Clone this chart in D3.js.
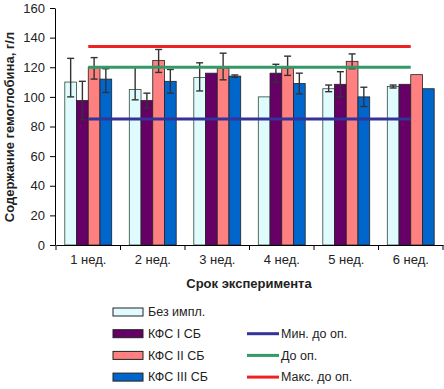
<!DOCTYPE html>
<html>
<head>
<meta charset="utf-8">
<script src="https://cdn.jsdelivr.net/npm/d3@7"></script>
<style>
  body { margin: 0; background: #fff; }
  svg { display: block; font-family: "Liberation Sans", Arial, sans-serif; }
</style>
</head>
<body>
<div id="chart"></div>
<script>
/* Содержание гемоглобина по неделям */

const weeks = ["1 нед.", "2 нед.", "3 нед.", "4 нед.", "5 нед.", "6 нед."];
const series = ["Без импл.", "КФС I СБ", "КФС II СБ", "КФС III СБ"];

// bar values per series (g/l)
const bezImpl = [110, 105, 113, 100, 105.5, 107];
const kfs1 = [97.5, 97.5, 116, 116, 108.5, 108.5];
const kfs2 = [120, 124.5, 119.5, 119.5, 124, 115];
const kfs3 = [112, 110.5, 114, 109, 100, 105.5];

// error bars: upper and lower deltas
const errUp = [
  [16, 15, 10, 0, 2.5, 1],
  [13, 5, 0, 6, 8.5, 0],
  [6.5, 7.5, 10, 8, 5, 0],
  [7, 8, 0.8, 7, 6.5, 0]
];
const errDown = [
  [10, 7, 9, 0, 2, 1],
  [13, 5, 0, 6, 8.5, 0],
  [8, 8, 8, 5, 5, 0],
  [9, 8, 0.8, 7, 6.5, 0]
];

// reference lines
const lineNames = ["Мин. до оп.", "До оп.", "Макс. до оп."];
const minLine = [85, 85, 85, 85, 85, 85];
const preLine = [120, 120, 120, 120, 120, 120];
const maxLine = [134, 134, 134, 134, 134, 134];

const yTicks = [0, 20, 40, 60, 80, 100, 120, 140, 160];

const barColors = ["#e0fbfd", "#660066", "#ff8080", "#0066cc"];
const lineColors = ["#333399", "#339966", "#ee2222"];

const width = 444, height = 389,
      margin = ({top: 8, right: 1, bottom: 144, left: 56});

const svg = d3.select("#chart")
    .append("svg")
    .attr("width", width)
    .attr("height", height);

const x = d3.scaleBand()
    .domain(weeks)
    .range([margin.left, width - margin.right])
    .paddingInner(0)
    .paddingOuter(0);

const xs = d3.scaleBand()
    .domain(series)
    .range([0, x.bandwidth()])
    .paddingInner(0)
    .paddingOuter(0.75);

const y = d3.scaleLinear()
    .domain([0, 160])
    .range([height - margin.bottom, margin.top]);

const barData = [bezImpl, kfs1, kfs2, kfs3];

// bars
series.forEach((s, si) => {
  const g = svg.append("g").attr("class", "bar");
  g.selectAll("rect")
    .data(weeks)
    .join("rect")
    .attr("x", (w) => x(w) + xs(s))
    .attr("width", xs.bandwidth())
    .attr("y", (w, i) => y(barData[si][i]))
    .attr("height", (w, i) => y(0) - y(barData[si][i]))
    .attr("fill", barColors[si])
    .attr("stroke", si === 0 ? "#2a4a3a" : "#222")
    .attr("stroke-width", 0.8);
});

// error bars
series.forEach((s, si) => {
  const g = svg.append("g").attr("class", "err")
      .attr("stroke", "#333")
      .attr("stroke-width", 1.4);
  weeks.forEach((w, i) => {
    const up = errUp[si][i], dn = errDown[si][i];
    if (up === 0 && dn === 0) return;
    const v = barData[si][i];
    const cx = x(w) + xs(s) + xs.bandwidth() / 2;
    g.append("line").attr("x1", cx).attr("x2", cx)
      .attr("y1", y(v + up)).attr("y2", y(v - dn));
    g.append("line").attr("x1", cx - 3.5).attr("x2", cx + 3.5)
      .attr("y1", y(v + up)).attr("y2", y(v + up));
    g.append("line").attr("x1", cx - 3.5).attr("x2", cx + 3.5)
      .attr("y1", y(v - dn)).attr("y2", y(v - dn));
  });
});

// reference lines
const lineData = [minLine, preLine, maxLine];
const line = d3.line()
    .x((d, i) => x(weeks[i]) + x.bandwidth() / 2)
    .y(d => y(d));

lineData.forEach((d, li) => {
  svg.append("path")
    .datum(d)
    .attr("fill", "none")
    .attr("stroke", lineColors[li])
    .attr("stroke-width", 3)
    .attr("d", line);
});

// axes
const yAxis = g => g
    .attr("transform", `translate(${margin.left - 1}, 0)`)
    .call(d3.axisLeft(y).tickValues(yTicks).tickSize(5).tickSizeOuter(0).tickPadding(5))
    .call(g => g.selectAll("text").attr("font-size", 13).attr("fill", "#222"));

const xAxis = g => g
    .attr("transform", `translate(0, ${height - margin.bottom})`)
    .call(d3.axisBottom(x).tickSize(0).tickSizeOuter(0).tickPadding(10))
    .call(g => g.selectAll("text").attr("font-size", 13).attr("fill", "#222"));

svg.append("g").call(yAxis);
svg.append("g").call(xAxis);

// category boundary ticks
svg.append("g")
  .selectAll("line")
  .data(weeks.concat([null]))
  .join("line")
  .attr("x1", (w, i) => i < weeks.length ? x(w) : x(weeks[i - 1]) + x.bandwidth())
  .attr("x2", (w, i) => i < weeks.length ? x(w) : x(weeks[i - 1]) + x.bandwidth())
  .attr("y1", y(0))
  .attr("y2", y(0) + 5)
  .attr("stroke", "#000");

// axis titles
svg.append("text")
  .attr("x", 249)
  .attr("y", 288)
  .attr("text-anchor", "middle")
  .attr("font-size", 13)
  .attr("font-weight", "bold")
  .attr("fill", "#222")
  .text("Срок эксперимента");

svg.append("text")
  .attr("transform", "translate(14, 127) rotate(-90)")
  .attr("text-anchor", "middle")
  .attr("font-size", 13)
  .attr("font-weight", "bold")
  .attr("fill", "#222")
  .text("Содержание гемоглобина, г/л");

// legend
const legend = svg.append("g").attr("font-size", 12.5).attr("fill", "#222");
series.forEach((s, si) => {
  const ly = 312 + si * 21.7;
  legend.append("rect")
    .attr("x", 113).attr("y", ly - 4)
    .attr("width", 30).attr("height", 8)
    .attr("fill", barColors[si])
    .attr("stroke", "#222").attr("stroke-width", 1);
  legend.append("text")
    .attr("x", 148).attr("y", ly).attr("dy", "0.35em")
    .text(s);
});
lineNames.forEach((n, li) => {
  const ly = 312 + (li + 1) * 21.7;
  legend.append("line")
    .attr("x1", 247).attr("x2", 279)
    .attr("y1", ly).attr("y2", ly)
    .attr("stroke", lineColors[li]).attr("stroke-width", 3);
  legend.append("text")
    .attr("x", 281).attr("y", ly).attr("dy", "0.35em")
    .text(n);
});
</script>
</body>
</html>
